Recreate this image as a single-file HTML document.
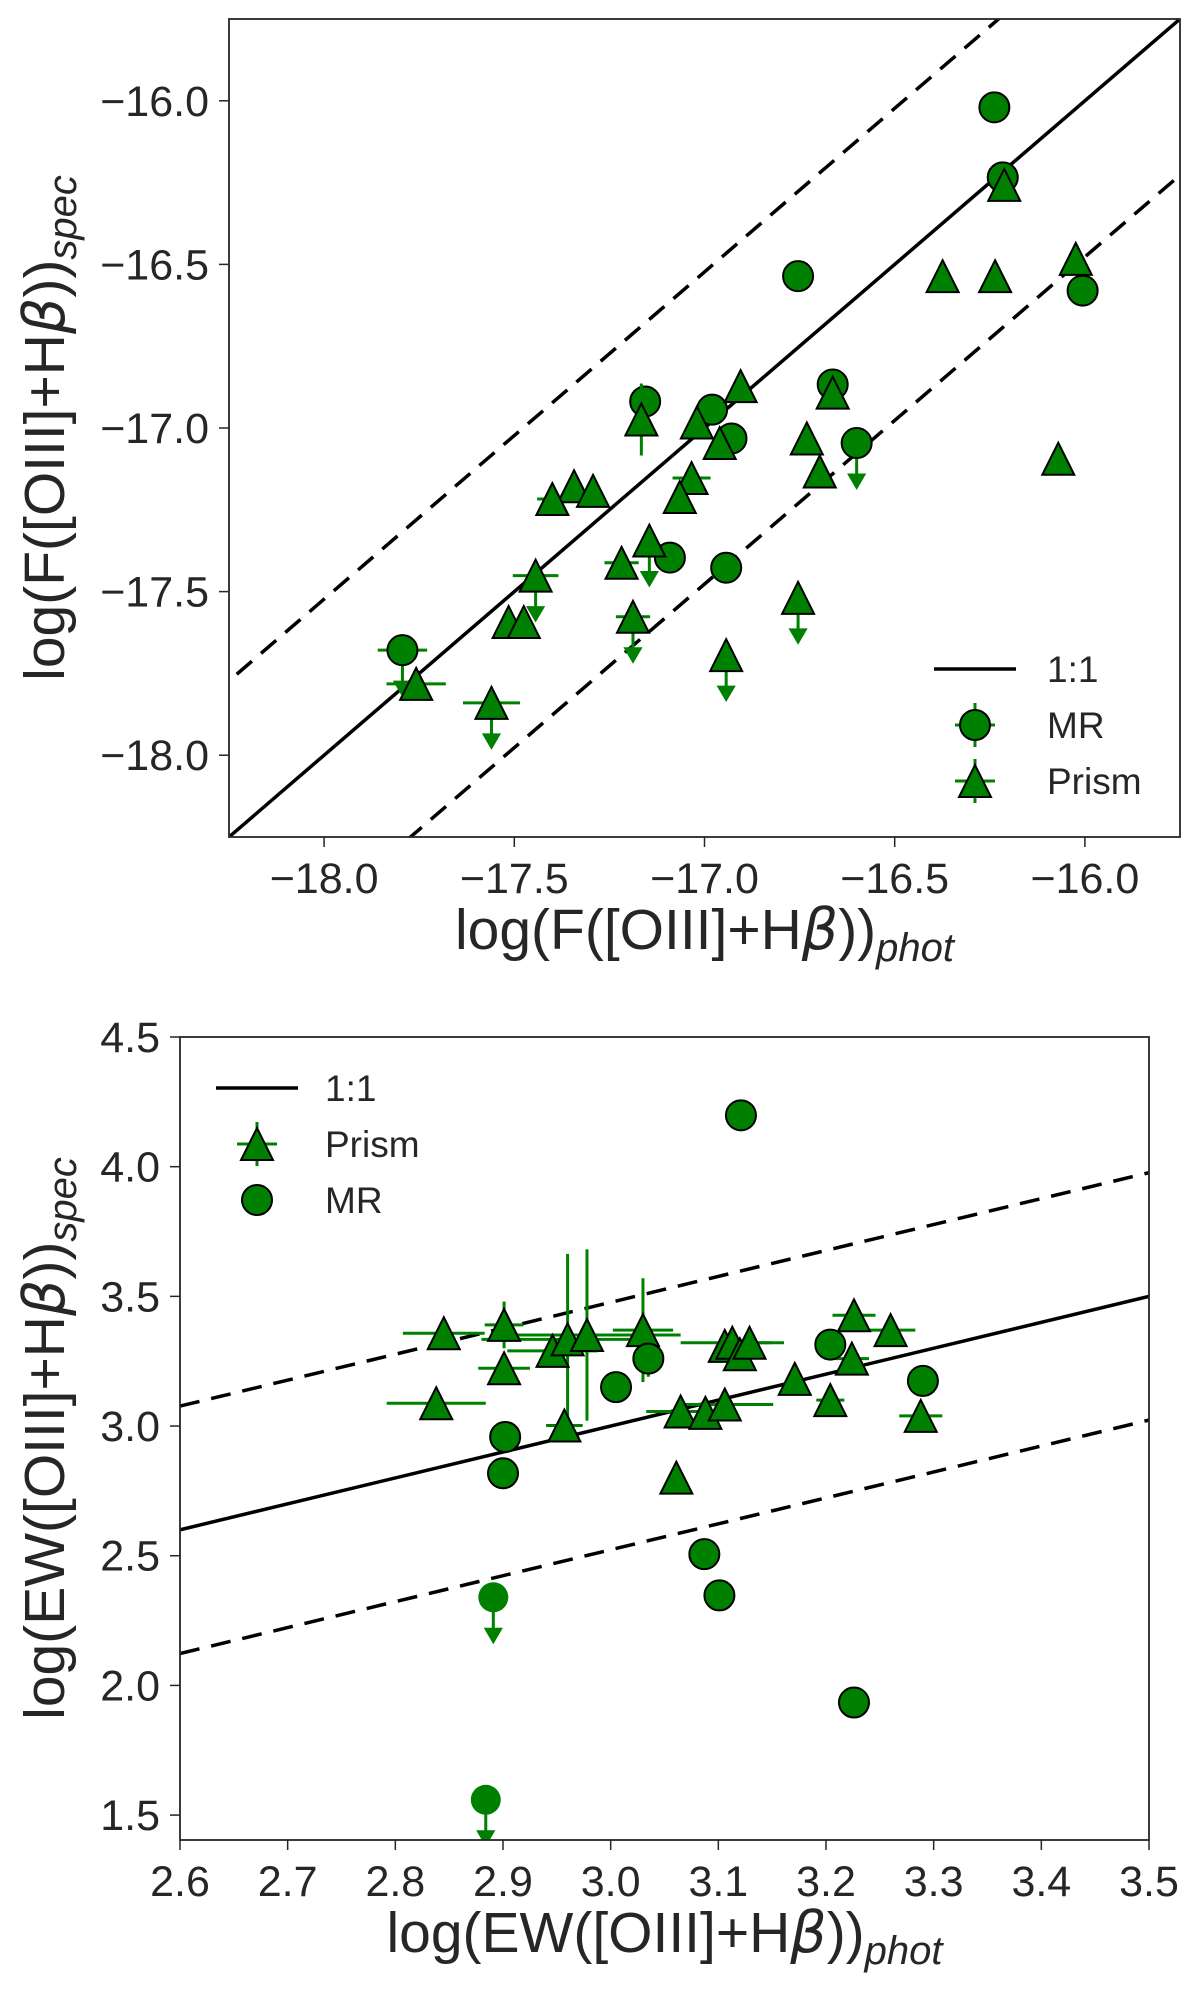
<!DOCTYPE html>
<html><head><meta charset="utf-8">
<style>
html,body{margin:0;padding:0;background:#fff;overflow:hidden;}
svg{display:block;font-family:"Liberation Sans",Arial,sans-serif;}
</style></head>
<body>
<svg id="fig" width="1200" height="1998" viewBox="0 0 1200 1998" xmlns="http://www.w3.org/2000/svg"></svg>
<script>
// ---------- Top panel data: flux ----------
const fluxMrX   = [-16.238,-16.216,-16.754,-16.006,-17.156,-16.98,-16.929,-16.663,-16.60,-17.091,-16.943,-17.794];
const fluxMrY   = [-16.02,-16.234,-16.536,-16.58,-16.919,-16.944,-17.032,-16.867,-17.046,-17.396,-17.427,-17.679];
const fluxMrXerr= [0,0,0,0,0,0,0,0,0,0,0,0.065];
const fluxMrUL  = [0,0,0,0,0,0,0,0,1,0,0,1];
const fluxPrX   = [-16.212,-16.374,-16.236,-16.024,-16.07,-16.905,-16.663,-17.166,-17.02,-16.96,-16.731,-16.697,-17.034,-17.065,-17.343,-17.293,-17.4,-17.145,-17.218,-17.444,-17.188,-17.515,-17.475,-16.754,-16.943,-17.758,-17.56];
const fluxPrY   = [-16.257,-16.536,-16.536,-16.483,-17.094,-16.872,-16.892,-16.974,-16.983,-17.046,-17.032,-17.133,-17.153,-17.211,-17.178,-17.192,-17.217,-17.344,-17.412,-17.451,-17.577,-17.593,-17.593,-17.519,-17.694,-17.782,-17.84];
const fluxPrXerr= [0,0,0,0,0,0,0,0,0,0,0,0,0.05,0,0,0,0.04,0,0.045,0.06,0.045,0,0,0,0,0.078,0.075];
const fluxPrYerr= [0,0,0,0,0,0,0,0.11,0,0,0,0,0,0,0,0,0,0,0,0,0,0,0,0,0,0,0];
const fluxPrUL  = [0,0,0,0,0,0,0,0,0,0,0,0,0,0,0,0,0,1,0,1,1,0,0,1,1,0,1];
const fluxTicks = [-18.0,-17.5,-17.0,-16.5,-16.0];
const fluxTickLabels = ["\u221218.0","\u221217.5","\u221217.0","\u221216.5","\u221216.0"];

// ---------- Bottom panel data: EW ----------
const ewMrX   = [3.121,3.204,3.290,3.035,3.005,2.902,2.900,3.087,3.101,3.226,2.891,2.884];
const ewMrY   = [4.198,3.314,3.174,3.26,3.15,2.958,2.818,2.506,2.347,1.934,2.34,1.559];
const ewMrYerr= [0,0,0,0.07,0.05,0,0,0,0,0,0,0];
const ewMrUL  = [0,0,0,0,0,0,0,0,0,0,1,1];
const ewPrX   = [2.845,2.838,2.901,2.901,2.946,2.960,2.978,3.03,2.957,3.065,3.088,3.106,3.106,3.113,3.12,3.129,3.061,3.171,3.204,3.224,3.226,3.26,3.288];
const ewPrY   = [3.358,3.088,3.39,3.223,3.29,3.334,3.351,3.37,3.002,3.056,3.051,3.083,3.309,3.321,3.277,3.321,2.801,3.182,3.1,3.26,3.427,3.37,3.039];
const ewPrXerr= [0.038,0.046,0.018,0.024,0.042,0.08,0.087,0.028,0.017,0.032,0,0.045,0,0.048,0,0.02,0,0,0.013,0.016,0.02,0.023,0.02];
const ewPrYerr= [0,0,0.09,0,0,0.33,0.33,0.2,0,0,0,0,0,0,0,0,0,0,0,0,0,0,0];
const ewXTicks = [2.6,2.7,2.8,2.9,3.0,3.1,3.2,3.3,3.4,3.5];
const ewXTickLabels = ["2.6","2.7","2.8","2.9","3.0","3.1","3.2","3.3","3.4","3.5"];
const ewYTicks = [1.5,2.0,2.5,3.0,3.5,4.0,4.5];
const ewYTickLabels = ["1.5","2.0","2.5","3.0","3.5","4.0","4.5"];
const offset = 0.477;

const NS="http://www.w3.org/2000/svg";
const svg=document.getElementById('fig');
const GREEN="#008000", DARK="#262626";
function mk(tag,attrs,parent){const e=document.createElementNS(NS,tag);for(const k in attrs)e.setAttribute(k,attrs[k]);(parent||svg).appendChild(e);return e;}

function panel(cfg){
  const g=mk('g',{});
  
  
  const X=v=>cfg.L+(v-cfg.x0)/(cfg.x1-cfg.x0)*(cfg.R-cfg.L);
  const Y=v=>cfg.B-(v-cfg.y0)/(cfg.y1-cfg.y0)*(cfg.B-cfg.T);
  const clipId=cfg.name+'-clip';
  const defs=mk('defs',{},g);const cp=mk('clipPath',{id:clipId},defs);
  mk('rect',{x:cfg.L,y:cfg.T,width:cfg.R-cfg.L,height:cfg.B-cfg.T},cp);
  cfg.xt.forEach((v,i)=>{
    const t=mk('line',{x1:X(v),x2:X(v),y1:cfg.B,y2:cfg.B+10,stroke:DARK,'stroke-width':1.5},g);
    
    const l=mk('text',{x:X(v),y:cfg.B+56,'font-size':43,fill:DARK,'text-anchor':'middle'},g);
    l.textContent=cfg.xtl[i];
    
  });
  cfg.yt.forEach((v,i)=>{
    const t=mk('line',{x1:cfg.L-10,x2:cfg.L,y1:Y(v),y2:Y(v),stroke:DARK,'stroke-width':1.5},g);
    
    const l=mk('text',{x:cfg.L-20,y:Y(v)+15,'font-size':43,fill:DARK,'text-anchor':'end'},g);
    l.textContent=cfg.ytl[i];
    
  });
  const pg=mk('g',{'clip-path':'url(#'+clipId+')'},g);
  const lx0=Math.min(cfg.x0,cfg.y0)-1, lx1=Math.max(cfg.x1,cfg.y1)+1;
  [[0,'none','one-to-one-line'],[offset,'20 12','upper-dashed-line'],[-offset,'20 12','lower-dashed-line']].forEach(([o,d,n])=>{
    const ln=mk('line',{x1:X(lx0),y1:Y(lx0+o),x2:X(lx1),y2:Y(lx1+o),stroke:'#000','stroke-width':3.5,'stroke-dasharray':d},pg);
    
  });
  cfg.series.forEach(s=>{
    const sg=mk('g',{},pg);
    
    s.x.forEach((xv,i)=>{
      const cx=X(xv), cy=Y(s.y[i]);
      const xe=s.xerr?s.xerr[i]:0, ye=s.yerr?s.yerr[i]:0;
      if(xe>0){const e=mk('line',{x1:X(xv-xe),x2:X(xv+xe),y1:cy,y2:cy,stroke:GREEN,'stroke-width':3},sg);
        }
      if(ye>0){const e=mk('line',{x1:cx,x2:cx,y1:Y(s.y[i]-ye),y2:Y(s.y[i]+ye),stroke:GREEN,'stroke-width':3},sg);
        }
      if(s.ul&&s.ul[i]){
        const a=mk('path',{d:`M${cx},${cy} L${cx},${cy+34} M${cx-7},${cy+32} L${cx+7},${cy+32} L${cx},${cy+44} Z`,stroke:GREEN,'stroke-width':3,fill:GREEN},sg);
        
      }
    });
    s.x.forEach((xv,i)=>{
      const cx=X(xv), cy=Y(s.y[i]);
      const noEdge=s.noEdgeUL&&s.ul[i];
      let m;
      if(s.shape==='circle') m=mk('circle',{cx,cy,r:15,fill:GREEN,stroke:noEdge?'none':'#000','stroke-width':2},sg);
      else m=mk('path',{d:`M${cx},${cy-16} L${cx+16},${cy+16} L${cx-16},${cy+16} Z`,fill:GREEN,stroke:'#000','stroke-width':2},sg);
      
      
    });
  });
  const fr=mk('rect',{x:cfg.L,y:cfg.T,width:cfg.R-cfg.L,height:cfg.B-cfg.T,fill:'none',stroke:DARK,'stroke-width':1.8},g);
  
  const xl=mk('text',{x:(cfg.L+cfg.R)/2,y:cfg.B+112,'font-size':57,fill:DARK,'text-anchor':'middle'},g);
  xl.innerHTML=cfg.lab+'([OIII]+H<tspan font-style="italic" font-family="DejaVu Sans">β</tspan>))<tspan font-style="italic" font-size="40" dy="12">phot</tspan>';
  
  const cyl=(cfg.T+cfg.B)/2;
  const yl=mk('text',{x:0,y:0,'font-size':57,fill:DARK,'text-anchor':'middle',transform:`translate(64,${cyl}) rotate(-90)`},g);
  yl.innerHTML=cfg.lab+'([OIII]+H<tspan font-style="italic" font-family="DejaVu Sans">β</tspan>))<tspan font-style="italic" font-size="40" dy="12">spec</tspan>';
  
  const lg=mk('g',{},g);
  
  cfg.legend.forEach((e,i)=>{
    const y=cfg.legY+i*cfg.legDy, mx=cfg.legX;
    const eg=mk('g',{},lg);
    
    if(e.k==='line') mk('line',{x1:mx-41,x2:mx+41,y1:y,y2:y,stroke:'#000','stroke-width':3.5},eg);
    else{
      if(e.err){
        mk('line',{x1:mx-20,x2:mx+20,y1:y,y2:y,stroke:GREEN,'stroke-width':3},eg);
        mk('line',{x1:mx,x2:mx,y1:y-22,y2:y+22,stroke:GREEN,'stroke-width':3},eg);
      }
      if(e.k==='circle') mk('circle',{cx:mx,cy:y,r:15,fill:GREEN,stroke:'#000','stroke-width':2},eg);
      else mk('path',{d:`M${mx},${y-16} L${mx+16},${y+16} L${mx-16},${y+16} Z`,fill:GREEN,stroke:'#000','stroke-width':2},eg);
    }
    const t=mk('text',{x:cfg.legTX,y:y+13,'font-size':37,fill:DARK},eg);t.textContent=e.t;
  });
}

panel({name:'flux-panel',L:229,R:1180,T:19,B:837,x0:-18.25,x1:-15.75,y0:-18.25,y1:-15.75,
  xt:fluxTicks,xtl:fluxTickLabels,yt:fluxTicks,ytl:fluxTickLabels,lab:'log(F',
  series:[
    {name:'mr-series',shape:'circle',x:fluxMrX,y:fluxMrY,xerr:fluxMrXerr,ul:fluxMrUL},
    {name:'prism-series',shape:'tri',x:fluxPrX,y:fluxPrY,xerr:fluxPrXerr,yerr:fluxPrYerr,ul:fluxPrUL}
  ],
  legend:[{k:'line',t:'1:1'},{k:'circle',t:'MR',err:true},{k:'tri',t:'Prism',err:true}],legX:975,legY:669,legDy:56,legTX:1047});

panel({name:'ew-panel',L:180,R:1149,T:1037,B:1840,x0:2.6,x1:3.5,y0:1.404,y1:4.5,
  xt:ewXTicks,xtl:ewXTickLabels,yt:ewYTicks,ytl:ewYTickLabels,lab:'log(EW',
  series:[
    {name:'prism-series',shape:'tri',x:ewPrX,y:ewPrY,xerr:ewPrXerr,yerr:ewPrYerr},
    {name:'mr-series',shape:'circle',x:ewMrX,y:ewMrY,yerr:ewMrYerr,ul:ewMrUL,noEdgeUL:true}
  ],
  legend:[{k:'line',t:'1:1'},{k:'tri',t:'Prism',err:true},{k:'circle',t:'MR',err:false}],legX:257,legY:1088,legDy:56,legTX:325});
</script>
</body></html>
